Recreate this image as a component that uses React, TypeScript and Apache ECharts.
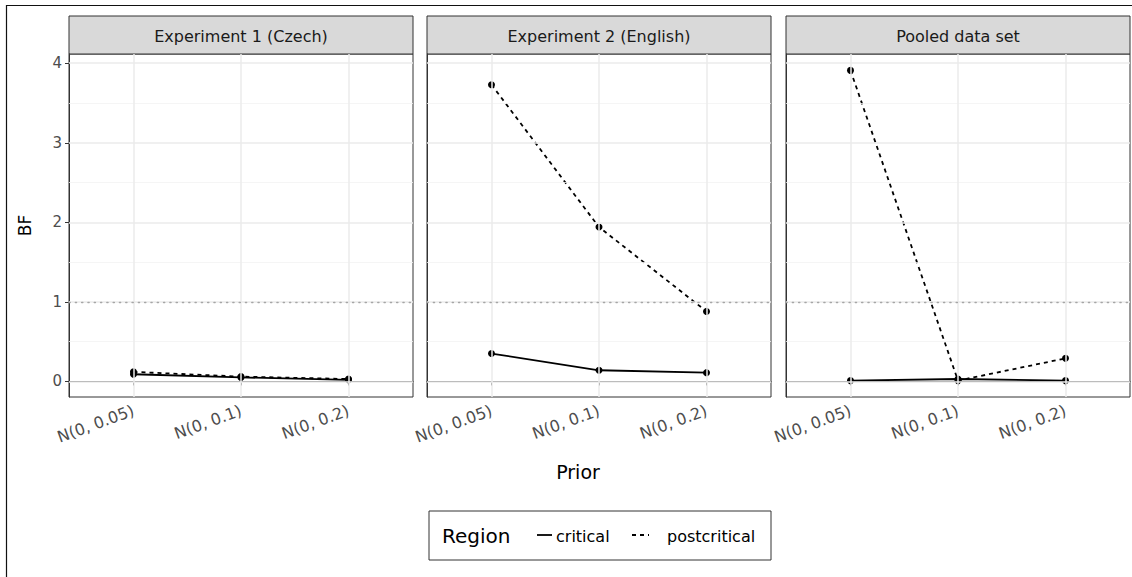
import React, { useEffect, useRef } from "react";
import * as echarts from "echarts";

const priors = ["N(0, 0.05)", "N(0, 0.1)", "N(0, 0.2)"];
const panels = ["Experiment 1 (Czech)", "Experiment 2 (English)", "Pooled data set"];
const critical = [
  [0.09, 0.05, 0.02],
  [0.35, 0.14, 0.11],
  [0.01, 0.03, 0.01],
];
const postcritical = [
  [0.12, 0.06, 0.03],
  [3.73, 1.94, 0.88],
  [3.91, 0.01, 0.29],
];
const yTicks = [0, 1, 2, 3, 4];
const yMinor = [0.5, 1.5, 2.5, 3.5];
const threshold = 1;
const xPositions = [1, 2, 3];

const FONT = "'DejaVu Sans', sans-serif";

export default function App() {
  const ref = useRef<HTMLDivElement>(null);
  useEffect(() => {
    if (!ref.current) return;
    const chart = echarts.init(ref.current, null, { renderer: "svg" });
    const lefts = [69, 427, 786];
    const W = 344;
    const TOP = 54;
    const H = 343;
    const grids = lefts.map((l) => ({
      left: l,
      top: TOP,
      width: W,
      height: H,
      show: true,
      borderColor: "#333",
      borderWidth: 1,
      backgroundColor: "#fff",
      containLabel: false,
    }));
    const xAxes = lefts.map((_, i) => ({
      type: "value",
      gridIndex: i,
      min: 0.4,
      max: 3.6,
      axisLine: { show: true, lineStyle: { color: "#333", width: 1 } },
      axisTick: { show: true, customValues: xPositions, length: 4, lineStyle: { color: "#333", width: 1 } },
      axisLabel: {
        customValues: xPositions,
        formatter: (v: number) => priors[Math.round(v) - 1] ?? "",
        rotate: 20,
        margin: 13,
        color: "#4d4d4d",
        fontSize: 16,
        fontFamily: FONT,
      },
      splitLine: { show: false },
    }));
    const yAxes = lefts.map((_, i) => ({
      type: "value",
      gridIndex: i,
      min: -0.196,
      max: 4.116,
      axisLine: { show: true, lineStyle: { color: "#333", width: 1 } },
      axisTick: { show: i === 0, customValues: yTicks, length: 4, lineStyle: { color: "#333", width: 1 } },
      axisLabel: {
        show: i === 0,
        customValues: yTicks,
        margin: 7,
        color: "#4d4d4d",
        fontSize: 15,
        fontFamily: FONT,
      },
      splitLine: { show: false },
      name: i === 0 ? "BF" : "",
      nameLocation: "middle",
      nameGap: 36,
      nameTextStyle: { color: "#000", fontSize: 17, fontFamily: FONT },
    }));

    const series: any[] = [];
    lefts.forEach((_, i) => {
      series.push({
        type: "line",
        xAxisIndex: i,
        yAxisIndex: i,
        z: 1,
        silent: true,
        symbol: "none",
        lineStyle: { opacity: 0 },
        data: xPositions.map((x, j) => [x, critical[i][j]]),
        markLine: {
          silent: true,
          symbol: "none",
          label: { show: false },
          animation: false,
          data: [
            ...yMinor.map((v) => ({ yAxis: v, lineStyle: { color: "#f2f2f2", width: 0.8, type: "solid" } })),
            ...yTicks.map((v) => ({ yAxis: v, lineStyle: { color: "#ebebeb", width: 1.5, type: "solid" } })),
            ...xPositions.map((v) => ({ xAxis: v, lineStyle: { color: "#ebebeb", width: 1.5, type: "solid" } })),
            { yAxis: threshold, lineStyle: { color: "#a6a6a6", width: 1.3, type: [1.3, 5], cap: "round" } },
          ],
        },
      });
      series.push({
        name: "critical",
        type: "line",
        xAxisIndex: i,
        yAxisIndex: i,
        z: 3,
        symbol: "circle",
        symbolSize: 7,
        itemStyle: { color: "#000", borderWidth: 0 },
        lineStyle: { color: "#000", width: 1.8, type: "solid" },
        data: xPositions.map((x, j) => [x, critical[i][j]]),
      });
      series.push({
        name: "postcritical",
        type: "line",
        xAxisIndex: i,
        yAxisIndex: i,
        z: 3,
        symbol: "circle",
        symbolSize: 7,
        itemStyle: { color: "#000", borderWidth: 0 },
        lineStyle: { color: "#000", width: 1.8, type: [4, 4] },
        data: xPositions.map((x, j) => [x, postcritical[i][j]]),
      });
    });

    const graphics: any[] = [
      { type: "line", shape: { x1: 6, y1: 5.5, x2: 1132, y2: 5.5 }, style: { stroke: "#111", lineWidth: 1.2 } },
      { type: "line", shape: { x1: 6.5, y1: 5, x2: 6.5, y2: 577 }, style: { stroke: "#111", lineWidth: 1.2 } },
    ];
    lefts.forEach((l, i) => {
      graphics.push({
        type: "rect",
        shape: { x: l, y: 16, width: W, height: 38 },
        style: { fill: "#d9d9d9", stroke: "#333", lineWidth: 1 },
      });
      graphics.push({
        type: "text",
        x: l + W / 2,
        y: 36,
        style: {
          text: panels[i],
          fill: "#1a1a1a",
          font: `16px ${FONT}`,
          textAlign: "center",
          textVerticalAlign: "middle",
        },
      });
    });
    graphics.push({
      type: "text",
      x: 578,
      y: 472,
      style: { text: "Prior", fill: "#000", font: `19px ${FONT}`, textAlign: "center", textVerticalAlign: "middle" },
    });
    graphics.push({
      type: "rect",
      shape: { x: 429, y: 511, width: 342, height: 49 },
      style: { fill: "#fff", stroke: "#333", lineWidth: 1 },
    });
    graphics.push({
      type: "text",
      x: 442,
      y: 536,
      style: { text: "Region", fill: "#000", font: `20px ${FONT}`, textAlign: "left", textVerticalAlign: "middle" },
    });
    graphics.push({ type: "line", shape: { x1: 537, y1: 535, x2: 552, y2: 535 }, style: { stroke: "#000", lineWidth: 1.8 } });
    graphics.push({
      type: "text",
      x: 556,
      y: 536,
      style: { text: "critical", fill: "#000", font: `16px ${FONT}`, textAlign: "left", textVerticalAlign: "middle" },
    });
    graphics.push({
      type: "line",
      shape: { x1: 632, y1: 535, x2: 649, y2: 535 },
      style: { stroke: "#000", lineWidth: 1.8, lineDash: [4, 4] },
    });
    graphics.push({
      type: "text",
      x: 667,
      y: 536,
      style: { text: "postcritical", fill: "#000", font: `16px ${FONT}`, textAlign: "left", textVerticalAlign: "middle" },
    });

    chart.setOption({
      animation: false,
      backgroundColor: "#fff",
      textStyle: { fontFamily: FONT },
      grid: grids,
      xAxis: xAxes,
      yAxis: yAxes,
      series,
      graphic: graphics,
    });
    return () => chart.dispose();
  }, []);
  return (
    <div
      ref={ref}
      style={{ position: "absolute", left: 0, top: 0, width: 1132, height: 577 }}
    />
  );
}
